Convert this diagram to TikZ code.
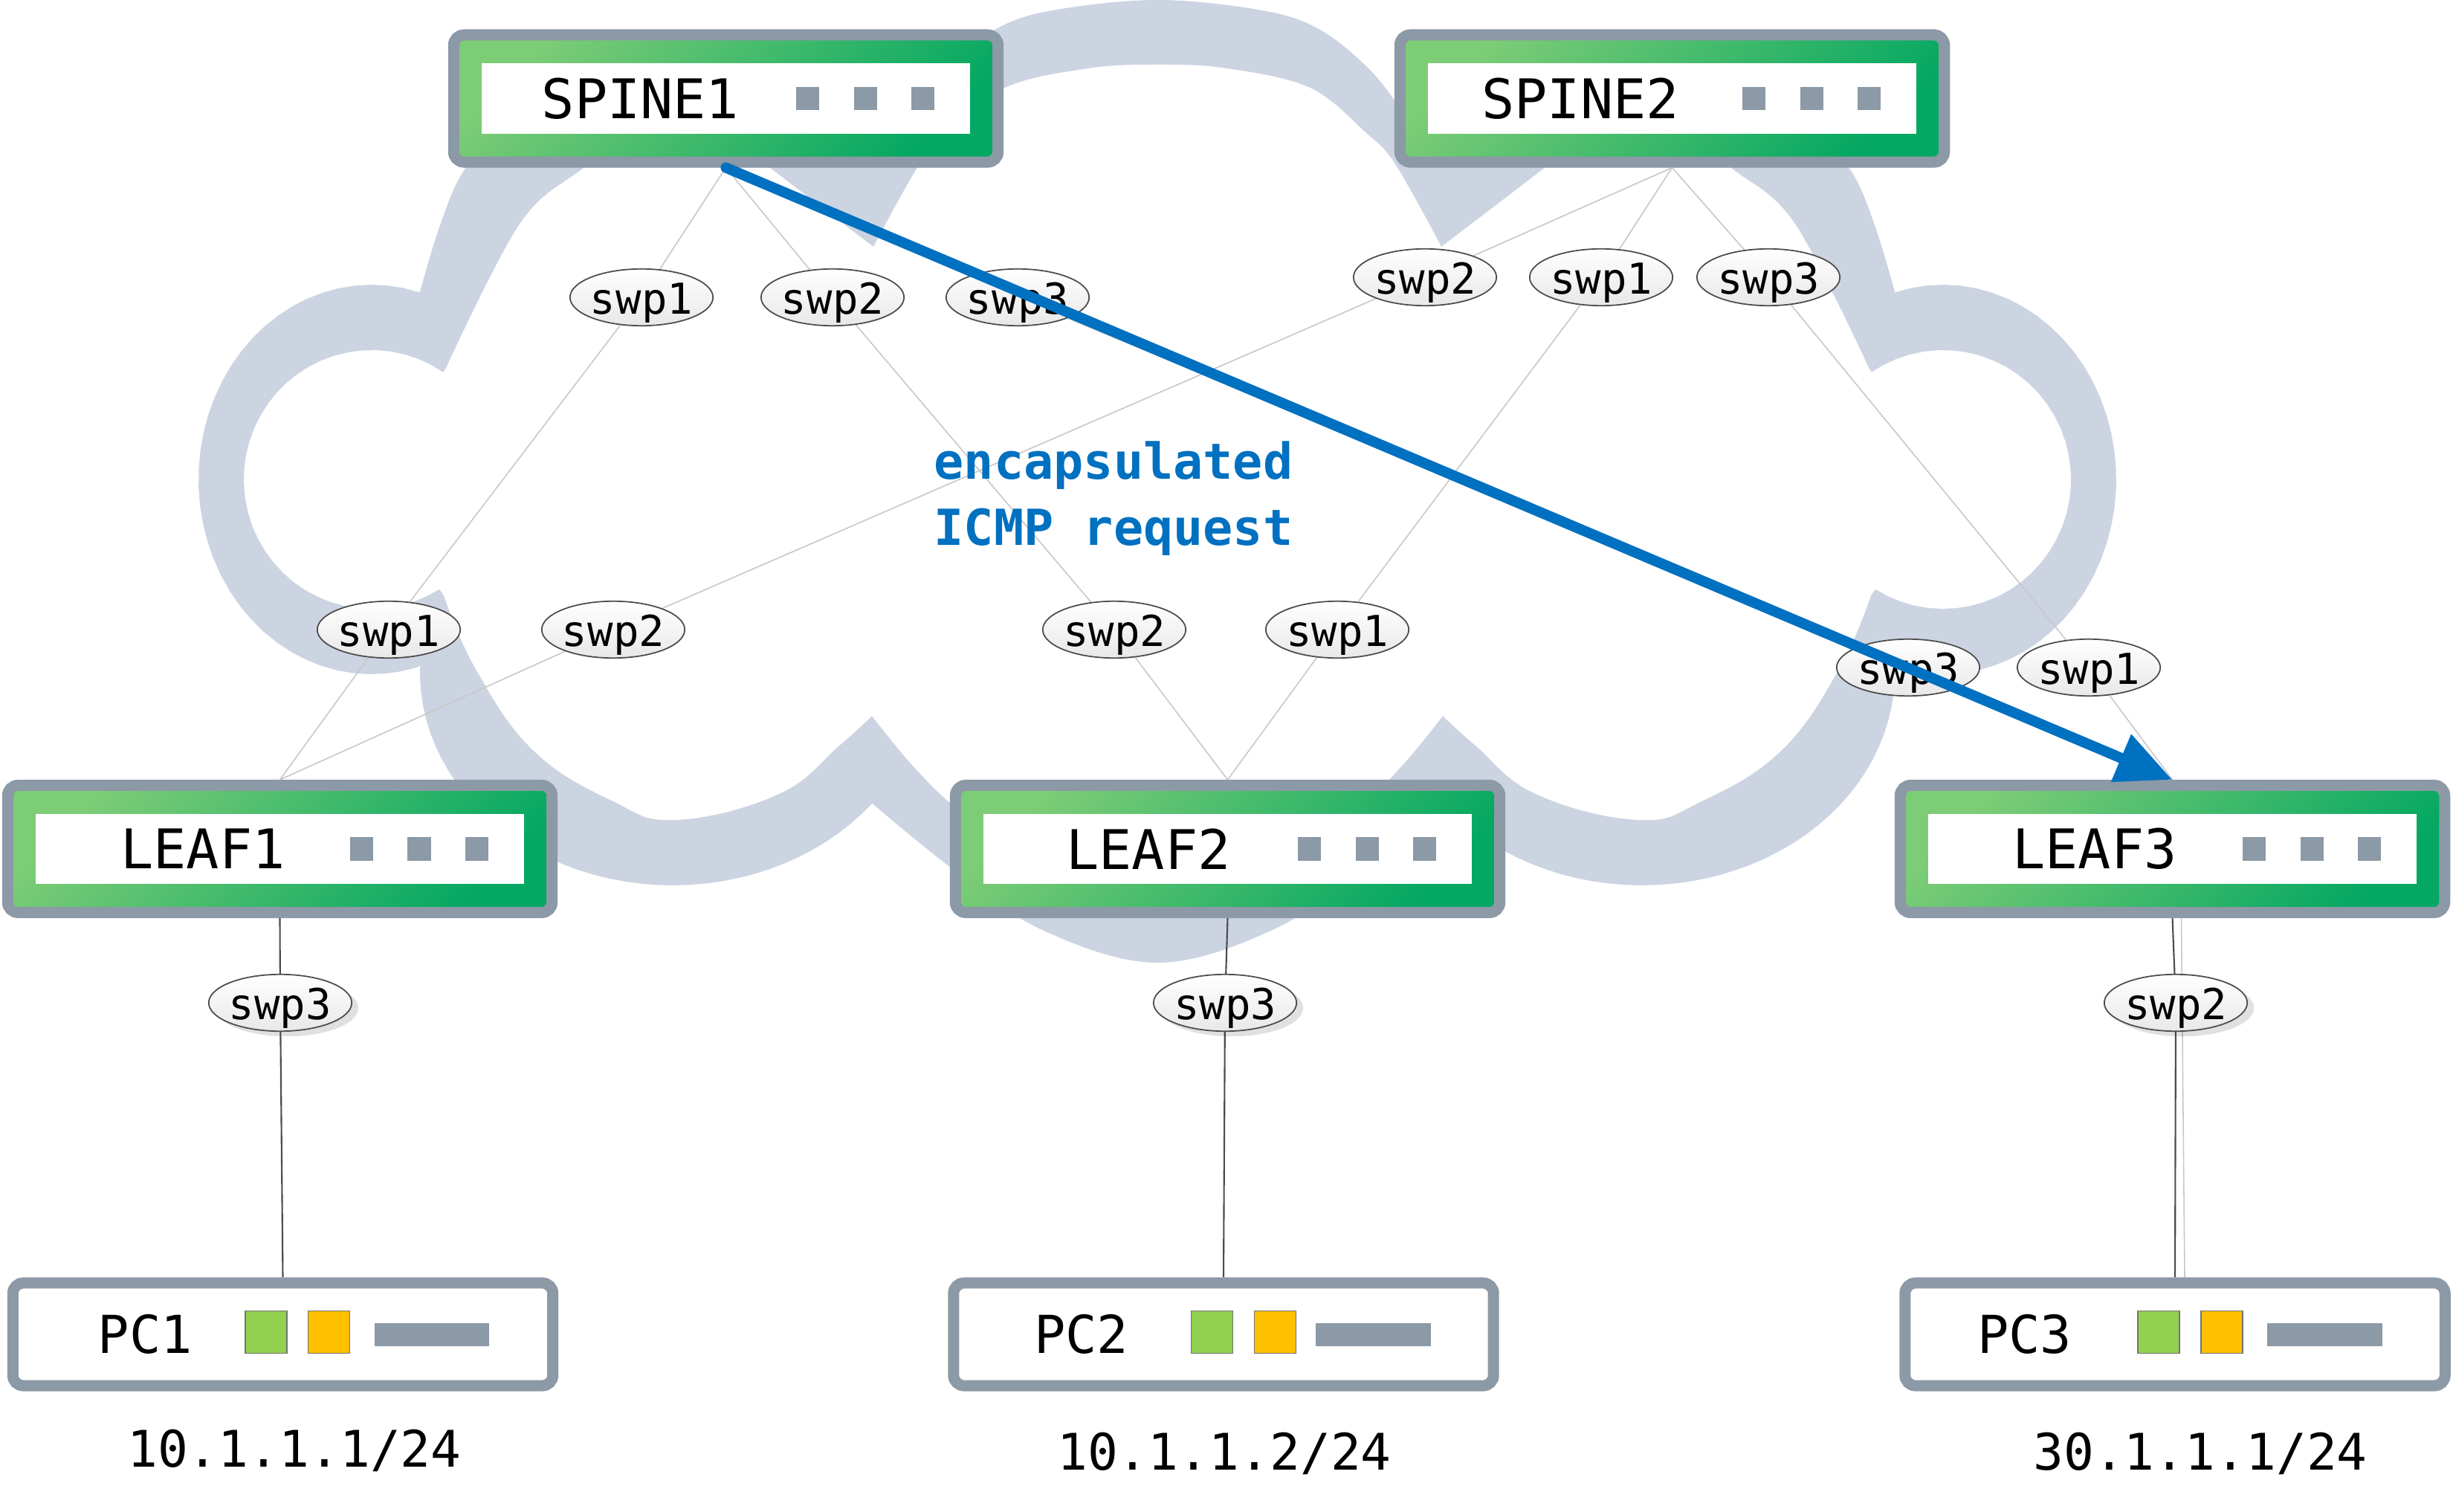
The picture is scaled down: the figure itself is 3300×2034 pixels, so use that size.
\documentclass[tikz,border=0pt]{standalone}
\usepackage{fontspec}
\newfontfamily\netmono{DejaVu Sans Mono}
\usepackage{tikz}
\usetikzlibrary{arrows.meta,backgrounds,shapes.geometric,shadows}
\definecolor{cloudgray}{RGB}{204,212,226}
\definecolor{boxgray}{RGB}{140,153,166}
\definecolor{swgreenA}{RGB}{125,204,118}
\definecolor{swgreenB}{RGB}{5,168,98}
\definecolor{nicgreen}{RGB}{146,208,80}
\definecolor{nicorange}{RGB}{255,192,0}
\definecolor{linkgray}{RGB}{200,200,200}
\definecolor{flowblue}{RGB}{0,112,192}
\tikzset{
  swbox/.style={draw=boxgray,line width=0.15cm,rounded corners=0.14cm,
    minimum width=7.32cm,minimum height=1.71cm,
    left color=swgreenA,right color=swgreenB,shading angle=45},
  swwin/.style={fill=white,inner sep=0pt,minimum width=6.56cm,minimum height=0.94cm},
  swname/.style={inner sep=0pt,font=\netmono\fontsize{20.9}{25}\selectfont},
  led/.style={fill=boxgray,inner sep=0pt,minimum size=0.31cm},
  pcbox/.style={draw=boxgray,line width=0.15cm,rounded corners=0.14cm,fill=white,
    minimum width=7.26cm,minimum height=1.38cm},
  pcname/.style={inner sep=0pt,font=\netmono\fontsize{20}{24}\selectfont},
  nic/.style={draw=black!55,line width=0.4pt,inner sep=0pt,minimum width=0.56cm,minimum height=0.57cm},
  pcbar/.style={fill=boxgray,inner sep=0pt,minimum width=1.54cm,minimum height=0.31cm},
  port/.style={ellipse,draw=black!70,line width=0.5pt,top color=white,bottom color=black!9,
    inner xsep=-0.01cm,inner ysep=0pt,text height=0.49cm,text depth=0.05cm,
    font=\netmono\fontsize{16.3}{19}\selectfont},
  hostport/.style={port,drop shadow={shadow xshift=0.09cm,shadow yshift=-0.07cm,fill=black,opacity=0.12}},
  ipaddr/.style={inner sep=0pt,anchor=base,font=\netmono\fontsize{19.3}{23}\selectfont},
  note/.style={inner sep=0pt,anchor=base west,text=flowblue,font=\netmono\bfseries\fontsize{19}{23}\selectfont},
  link/.style={draw=linkgray,line width=0.45pt},
  access/.style={draw=black!70,line width=0.6pt},
  flow/.style={draw=flowblue,line width=4pt,line cap=round,-{Triangle[length=0.75cm,width=0.66cm]}},
  lobe/.style={samples=40,variable=\t}
}

\begin{document}
\begin{tikzpicture}[x=0.01cm,y=-0.01cm]
      \useasboundingbox (0,0) rectangle (3300,2034);
      \node[swbox] at (976.5,132.5) (spine1) {};
      \node[swwin] at (976.5,132.5) (spine1w) {};
      \node[swname] at (861.5,132.5) (spine1t) {SPINE1};
      \node[led] at (1086.5,132.5) (spine1a) {};
      \node[led] at (1164,132.5) (spine1b) {};
      \node[led] at (1241.5,132.5) (spine1c) {};
      \node[swbox] at (2249.5,132.5) (spine2) {};
      \node[swwin] at (2249.5,132.5) (spine2w) {};
      \node[swname] at (2126,132.5) (spine2t) {SPINE2};
      \node[led] at (2359.5,132.5) (spine2a) {};
      \node[led] at (2437,132.5) (spine2b) {};
      \node[led] at (2514.5,132.5) (spine2c) {};
      \node[swbox] at (376.5,1142) (leaf1) {};
      \node[swwin] at (376.5,1142) (leaf1w) {};
      \node[swname] at (273,1142) (leaf1t) {LEAF1};
      \node[led] at (486.5,1142) (leaf1a) {};
      \node[led] at (564,1142) (leaf1b) {};
      \node[led] at (641.5,1142) (leaf1c) {};
      \node[swbox] at (1651.5,1142) (leaf2) {};
      \node[swwin] at (1651.5,1142) (leaf2w) {};
      \node[swname] at (1545,1142) (leaf2t) {LEAF2};
      \node[led] at (1761.5,1142) (leaf2a) {};
      \node[led] at (1839,1142) (leaf2b) {};
      \node[led] at (1916.5,1142) (leaf2c) {};
      \node[swbox] at (2922.5,1142) (leaf3) {};
      \node[swwin] at (2922.5,1142) (leaf3w) {};
      \node[swname] at (2818,1142) (leaf3t) {LEAF3};
      \node[led] at (3032.5,1142) (leaf3a) {};
      \node[led] at (3110,1142) (leaf3b) {};
      \node[led] at (3187.5,1142) (leaf3c) {};
      \node[pcbox] at (380.5,1795) (pc1) {};
      \node[pcname] at (195.5,1795) (pc1t) {PC1};
      \node[nic,fill=nicgreen] at (358,1792) (pc1g) {};
      \node[nic,fill=nicorange] at (442.5,1792) (pc1o) {};
      \node[pcbar] at (581,1795) (pc1b) {};
      \node[ipaddr] at (396,1973) (ip1) {10.1.1.1/24};
      \node[pcbox] at (1646,1795) (pc2) {};
      \node[pcname] at (1454.6,1795) (pc2t) {PC2};
      \node[nic,fill=nicgreen] at (1630.5,1792) (pc2g) {};
      \node[nic,fill=nicorange] at (1715.5,1792) (pc2o) {};
      \node[pcbar] at (1847.5,1795) (pc2b) {};
      \node[ipaddr] at (1647,1977) (ip2) {10.1.1.2/24};
      \node[pcbox] at (2926,1795) (pc3) {};
      \node[pcname] at (2723.5,1795) (pc3t) {PC3};
      \node[nic,fill=nicgreen] at (2904,1792) (pc3g) {};
      \node[nic,fill=nicorange] at (2989,1792) (pc3o) {};
      \node[pcbar] at (3127.5,1795) (pc3b) {};
      \node[ipaddr] at (2960,1977) (ip3) {30.1.1.1/24};
      \node[port] at (863,400) (s1p1) {swp1};
      \node[port] at (1120,400) (s1p2) {swp2};
      \node[port] at (1369,400) (s1p3) {swp3};
      \node[port] at (1917,373) (s2p2) {swp2};
      \node[port] at (2154,373) (s2p1) {swp1};
      \node[port] at (2379,373) (s2p3) {swp3};
      \node[port] at (523,847) (l1p1) {swp1};
      \node[port] at (825,847) (l1p2) {swp2};
      \node[port] at (1499,847) (l2p2) {swp2};
      \node[port] at (1799,847) (l2p1) {swp1};
      \node[port] at (2567,898) (l3p3) {swp3};
      \node[port] at (2810,898) (l3p1) {swp1};
      \node[hostport] at (377,1349) (l1p3) {swp3};
      \node[hostport] at (1648,1349) (l2p3) {swp3};
      \node[hostport] at (2927,1349) (l3p2) {swp2};
      \node[note] at (1256,645) (icmp1) {encapsulated};
      \node[note] at (1256,733) (icmp2) {ICMP request};
      \begin{scope}[on background layer]
      \fill[white] (0,0) rectangle (3300,2034);
      \fill[cloudgray] plot[smooth,tension=0.6] coordinates {(1900,170) (1877,136) (1838,89) (1774,39) (1698,14) (1557,0) (1416,14) (1340,39) (1276,89) (1237,136) (1214,170)}
        -- plot[smooth,tension=0.6] coordinates {(1214,170) (1100,100) (950,70) (800,90) (700,140) (627,225) (593,300) (564,396)}
        -- plot[lobe,domain=-74:-285.4] ({500+233*cos(\t)},{645+262*sin(\t)})
        -- plot[lobe,domain=182:38] ({905+340*cos(\t)},{905+286*sin(\t)})
        -- plot[smooth,tension=0.6] coordinates {(1170,1078) (1279,1167) (1400,1250) (1557,1295) (1714,1250) (1835,1167) (1944,1078)}
        -- plot[lobe,domain=142:-2] ({2209+340*cos(\t)},{905+286*sin(\t)})
        -- plot[lobe,domain=105.4:-106] ({2614+233*cos(\t)},{645+262*sin(\t)})
        -- plot[smooth,tension=0.6] coordinates {(2550,396) (2521,300) (2487,225) (2414,140) (2314,90) (2164,70) (2014,100) (1900,170)}
        -- cycle;
      \fill[white] plot[smooth,tension=0.6] coordinates {(1939,332) (1877,221) (1838,179) (1762,118) (1650,92) (1557,87) (1464,92) (1352,118) (1276,179) (1237,221) (1175,332)}
        -- plot[smooth,tension=0.6] coordinates {(1175,332) (1035,225) (960,165) (860,165) (786,225) (700,300) (600,495)}
        -- plot[lobe,domain=-56:-302] ({500+172*cos(\t)},{645+174*sin(\t)})
        -- plot[smooth,tension=0.7] coordinates {(597,801) (640,900) (718,1010) (825,1078) (910,1103) (1048,1068) (1129,1003) (1173,963)}
        -- plot[smooth,tension=0.6] coordinates {(1173,963) (1227,1029) (1290,1090) (1400,1170) (1557,1207) (1714,1170) (1824,1090) (1887,1029) (1941,963)}
        -- plot[smooth,tension=0.7] coordinates {(1941,963) (1985,1003) (2066,1068) (2204,1103) (2289,1078) (2396,1010) (2474,900) (2517,801)}
        -- plot[lobe,domain=122:-124] ({2614+172*cos(\t)},{645+174*sin(\t)})
        -- plot[smooth,tension=0.6] coordinates {(2514,495) (2414,300) (2328,225) (2254,165) (2154,165) (2079,225) (1939,332)}
        -- cycle;
      \draw[link] (spine1.south)--(s1p1)--(l1p1)--(leaf1.north);
      \draw[link] (spine1.south)--(s1p2)--(l2p2)--(leaf2.north);
      \draw[link] (spine1.south)--(s1p3)--(l3p3)--(leaf3.north);
      \draw[link] (spine2.south)--(s2p2)--(l1p2)--(leaf1.north);
      \draw[link] (spine2.south)--(s2p1)--(l2p1)--(leaf2.north);
      \draw[link] (spine2.south)--(s2p3)--(l3p1)--(leaf3.north);
      \draw[access] (leaf1.south)--(l1p3)--(pc1.north);
      \draw[access] (leaf2.south)--(l2p3)--(pc2.north);
      \draw[access] (leaf3.south)--(l3p2)--(pc3.north);
      \draw[link] ([xshift=0.12cm]leaf3.south)--([xshift=0.13cm]pc3.north);
      \end{scope}
      \draw[flow] (spine1.south)--(leaf3.north);
    \end{tikzpicture}
\end{document}
